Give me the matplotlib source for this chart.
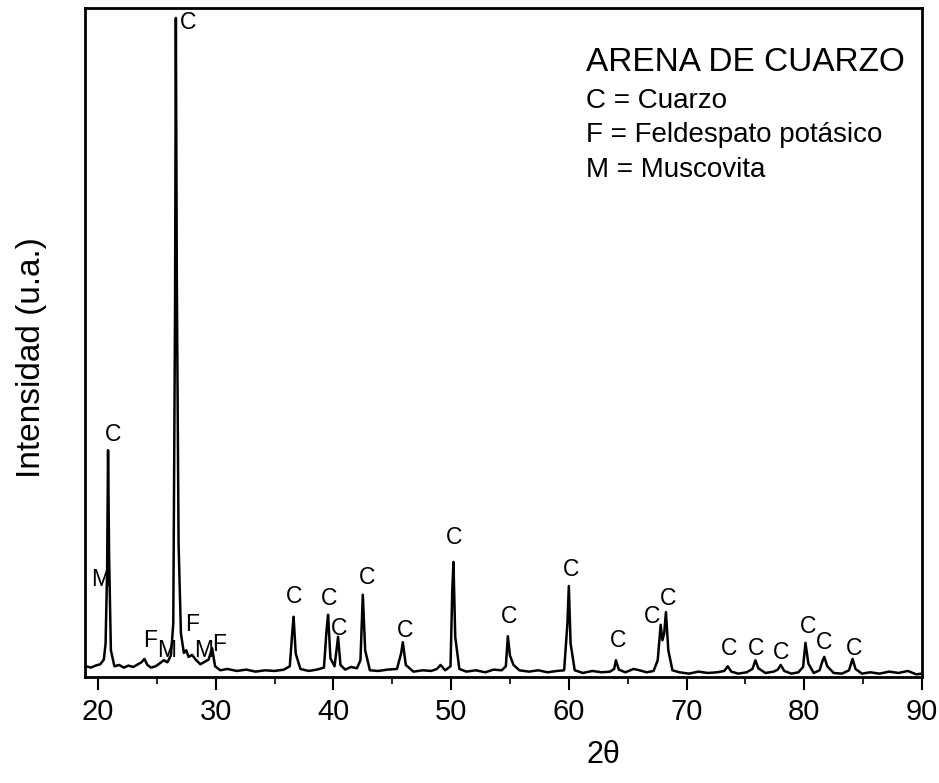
import matplotlib
matplotlib.use('Agg')
import matplotlib.pyplot as plt
from matplotlib.ticker import MultipleLocator

# XRD pattern (2-theta, intensity in arbitrary units)
two_theta = [19.0, 19.4, 19.8, 20.2, 20.5, 20.65, 20.78, 20.86, 20.95, 21.1, 21.4,
             21.8, 22.2, 22.6, 23.0, 23.4, 23.7, 23.95, 24.2, 24.5, 24.9, 25.3,
             25.6, 25.9, 26.2, 26.4, 26.55, 26.62, 26.7, 26.85, 27.05, 27.3, 27.5,
             27.7, 28.0, 28.3, 28.7, 29.1, 29.4, 29.7, 29.95, 30.4, 31.0, 31.8,
             32.6, 33.4, 34.2, 35.0, 35.8, 36.3, 36.5, 36.62, 36.8, 37.2, 37.9,
             38.6, 39.2, 39.42, 39.55, 39.75, 40.1, 40.4, 40.6, 41.0, 41.5, 42.0,
             42.3, 42.5, 42.7, 43.1, 43.8, 44.6, 45.4, 45.75, 45.9, 46.15, 46.8,
             47.6, 48.3, 48.8, 49.1, 49.5, 49.95, 50.1, 50.2, 50.35, 50.7, 51.3,
             52.1, 52.9, 53.6, 54.3, 54.65, 54.82, 55.0, 55.3, 55.8, 56.6, 57.4,
             58.2, 59.0, 59.6, 59.88, 60.0, 60.15, 60.5, 61.2, 62.0, 62.8, 63.5,
             63.85, 64.0, 64.25, 64.8, 65.5, 66.0, 66.6, 67.2, 67.55, 67.8, 67.95,
             68.1, 68.25, 68.45, 68.8, 69.4, 70.2, 71.0, 71.8, 72.6, 73.2, 73.5,
             73.8, 74.4, 75.1, 75.6, 75.85, 76.1, 76.7, 77.4, 77.75, 78.0, 78.3,
             78.9, 79.5, 79.9, 80.1, 80.35, 80.8, 81.3, 81.55, 81.7, 81.95, 82.5,
             83.2, 83.8, 84.1, 84.35, 84.9, 85.6, 86.4, 87.2, 88.0, 88.8, 89.5, 90.0]
intensity = [1.6, 1.4, 1.7, 1.9, 2.6, 5.0, 16.0, 33.9, 18.0, 4.0, 1.6,
             1.8, 1.4, 1.7, 1.5, 1.9, 2.2, 2.7, 1.8, 1.4, 1.6, 2.1,
             2.5, 2.2, 3.2, 8.0, 55.0, 98.5, 60.0, 20.0, 6.5, 3.6, 4.0,
             3.0, 3.3, 2.6, 1.9, 2.3, 2.6, 4.3, 1.6, 1.0, 1.2, 0.9,
             1.1, 0.8, 1.0, 0.9, 1.1, 1.6, 6.5, 9.0, 3.5, 1.2, 0.9,
             1.1, 1.4, 7.0, 9.3, 2.8, 1.6, 6.0, 1.8, 1.1, 1.5, 1.3,
             2.5, 12.3, 4.0, 1.0, 0.9, 1.1, 1.2, 3.5, 5.2, 1.8, 0.8,
             1.0, 0.9, 1.2, 1.8, 1.0, 1.6, 13.0, 17.2, 6.0, 1.2, 0.8,
             1.0, 0.7, 1.1, 1.0, 1.6, 6.1, 3.2, 1.8, 1.0, 0.8, 1.0,
             0.7, 0.9, 1.0, 8.0, 13.6, 5.0, 1.0, 0.6, 0.9, 0.7, 0.8,
             1.2, 2.5, 1.1, 0.7, 1.2, 1.0, 0.7, 0.9, 2.5, 7.8, 5.5,
             6.5, 9.7, 4.0, 1.0, 0.7, 0.5, 0.8, 0.6, 0.7, 0.9, 1.6,
             0.8, 0.5, 0.7, 1.2, 2.5, 1.3, 0.6, 0.8, 1.1, 1.8, 0.9,
             0.5, 0.7, 1.5, 5.1, 2.0, 0.6, 1.0, 2.4, 3.0, 1.6, 0.6,
             0.5, 1.0, 2.7, 1.2, 0.5, 0.7, 0.5, 0.8, 0.6, 0.9, 0.4, 0.5]

# phase labels: letter, anchor 2-theta, anchor intensity
peak_letters = ['C', 'M', 'F', 'M', 'C', 'F', 'M', 'F', 'C', 'C', 'C', 'C',
                'C', 'C', 'C', 'C', 'C', 'C', 'C', 'C', 'C', 'C', 'C', 'C', 'C']
label_x = [21.28, 20.2, 24.4, 25.85, 27.65, 27.99, 28.95, 30.3, 36.67, 39.64,
           40.49, 42.87, 46.1, 50.27, 54.95, 60.2, 64.2, 67.1, 68.46, 73.57,
           75.87, 78.0, 80.3, 81.7, 84.2]
label_y = [36.2, 14.5, 5.4, 4.0, 97.9, 7.8, 4.0, 4.8, 12.0, 11.7,
           7.3, 14.9, 7.0, 20.9, 9.1, 16.0, 5.5, 9.1, 11.8, 4.2,
           4.2, 3.7, 7.6, 5.2, 4.3]

legend_title = 'ARENA DE CUARZO'
legend_lines = ['C = Cuarzo', 'F = Feldespato potásico', 'M = Muscovita']

plt.rcParams['font.family'] = ['Liberation Sans', 'DejaVu Sans']

fig = plt.figure(figsize=(9.39, 7.83), dpi=100)
ax = fig.add_axes([0.0905, 0.1354, 0.8914, 0.8544])

ax.plot(two_theta, intensity, color='black', lw=1.8)

for letter, lx, ly in zip(peak_letters, label_x, label_y):
    ax.text(lx, ly, letter, fontsize=16.5, ha='center', va='center')

ax.text(0.599, 0.919, legend_title, transform=ax.transAxes, fontsize=24,
        ha='left', va='center')
for i, line in enumerate(legend_lines):
    ax.text(0.599, 0.861 - i * 0.0515, line, transform=ax.transAxes,
            fontsize=20, ha='left', va='center')

ax.set_xlim(18.9, 90)
ax.set_ylim(0, 100)
ax.xaxis.set_major_locator(MultipleLocator(10))
ax.xaxis.set_minor_locator(MultipleLocator(5))
ax.tick_params(axis='x', which='major', direction='out', length=9, width=1.5,
               labelsize=21, pad=6)
ax.tick_params(axis='x', which='minor', direction='out', length=5, width=1.2)
ax.set_yticks([])
for s in ax.spines.values():
    s.set_linewidth(2)

ax.set_xlabel('2θ', fontsize=22)
ax.xaxis.set_label_coords(0.619, -0.094)
ax.set_ylabel('Intensidad (u.a.)', fontsize=24)
ax.yaxis.set_label_coords(-0.045, 0.477)

fig.savefig('out.png', dpi=100)
